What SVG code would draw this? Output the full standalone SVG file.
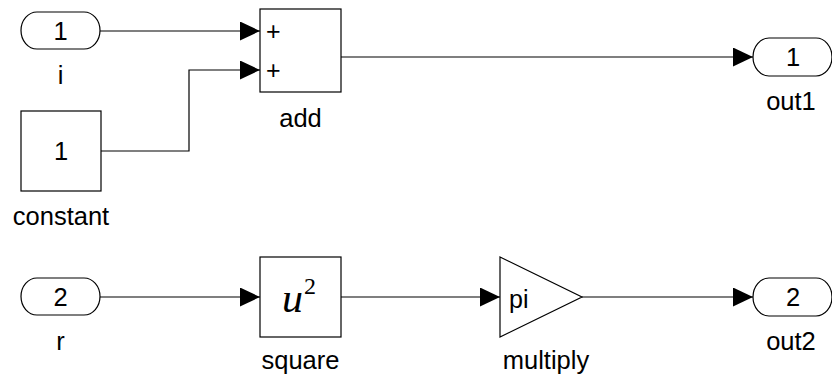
<svg xmlns="http://www.w3.org/2000/svg" width="832" height="378" viewBox="0 0 832 378">
<style>
.blk{fill:#fff;stroke:#000;stroke-width:1.2}
.ln{fill:none;stroke:#000;stroke-width:1.2}
.t{font-family:"Liberation Sans",Arial,sans-serif;font-size:25.5px;fill:#000;text-anchor:middle}
.p{font-family:"Liberation Sans",Arial,sans-serif;font-size:25px;fill:#000}
.m{font-family:"Liberation Serif","Times New Roman",serif;fill:#000}
</style>
<defs>
<marker id="ah" viewBox="0 0 20 19" refX="20" refY="9.5" markerWidth="20" markerHeight="19" markerUnits="userSpaceOnUse" orient="auto">
<path d="M0,0 L20,9.5 L0,19 z" fill="#000"/>
</marker>
</defs>
<rect width="832" height="378" fill="#fff"/>
<g id="connectors">
<path class="ln" d="M100,31 H260" marker-end="url(#ah)"/>
<path class="ln" d="M101,151 H189 V70 H260" marker-end="url(#ah)"/>
<path class="ln" d="M341,57 H753" marker-end="url(#ah)"/>
<path class="ln" d="M100,297 H260" marker-end="url(#ah)"/>
<path class="ln" d="M341,297 H500" marker-end="url(#ah)"/>
<path class="ln" d="M582,297 H753" marker-end="url(#ah)"/>
</g>
<g id="in_i">
<rect class="blk" x="21" y="12" width="79" height="37" rx="16" ry="18.5"/>
<text class="t" x="60.5" y="40">1</text>
<text class="t" x="60.5" y="84">i</text>
</g>
<g id="constant">
<rect class="blk" x="21" y="111" width="80" height="80"/>
<text class="t" x="61" y="160">1</text>
<text class="t" x="61" y="225">constant</text>
</g>
<g id="add">
<rect class="blk" x="260" y="9" width="81" height="83"/>
<text class="p" x="266" y="40">+</text>
<text class="p" x="266" y="79">+</text>
<text class="t" x="300.5" y="127">add</text>
</g>
<g id="out1">
<rect class="blk" x="753" y="38" width="79" height="38" rx="16" ry="19"/>
<text class="t" x="793" y="66">1</text>
<text class="t" x="791" y="110">out1</text>
</g>
<g id="in_r">
<rect class="blk" x="21" y="278" width="79" height="37" rx="16" ry="18.5"/>
<text class="t" x="60.5" y="306">2</text>
<text class="t" x="60.5" y="350">r</text>
</g>
<g id="square">
<rect class="blk" x="260" y="257" width="81" height="80"/>
<text class="m" x="282" y="312" font-size="42" font-style="italic">u</text>
<text class="m" x="304" y="294" font-size="24">2</text>
<text class="t" x="300.5" y="369">square</text>
</g>
<g id="multiply">
<polygon class="blk" points="500,257 582,297 500,337"/>
<text class="p" x="509" y="308" font-size="28">pi</text>
<text class="t" x="546" y="369">multiply</text>
</g>
<g id="out2">
<rect class="blk" x="753" y="278" width="79" height="38" rx="16" ry="19"/>
<text class="t" x="793" y="306">2</text>
<text class="t" x="791" y="350">out2</text>
</g>
</svg>
